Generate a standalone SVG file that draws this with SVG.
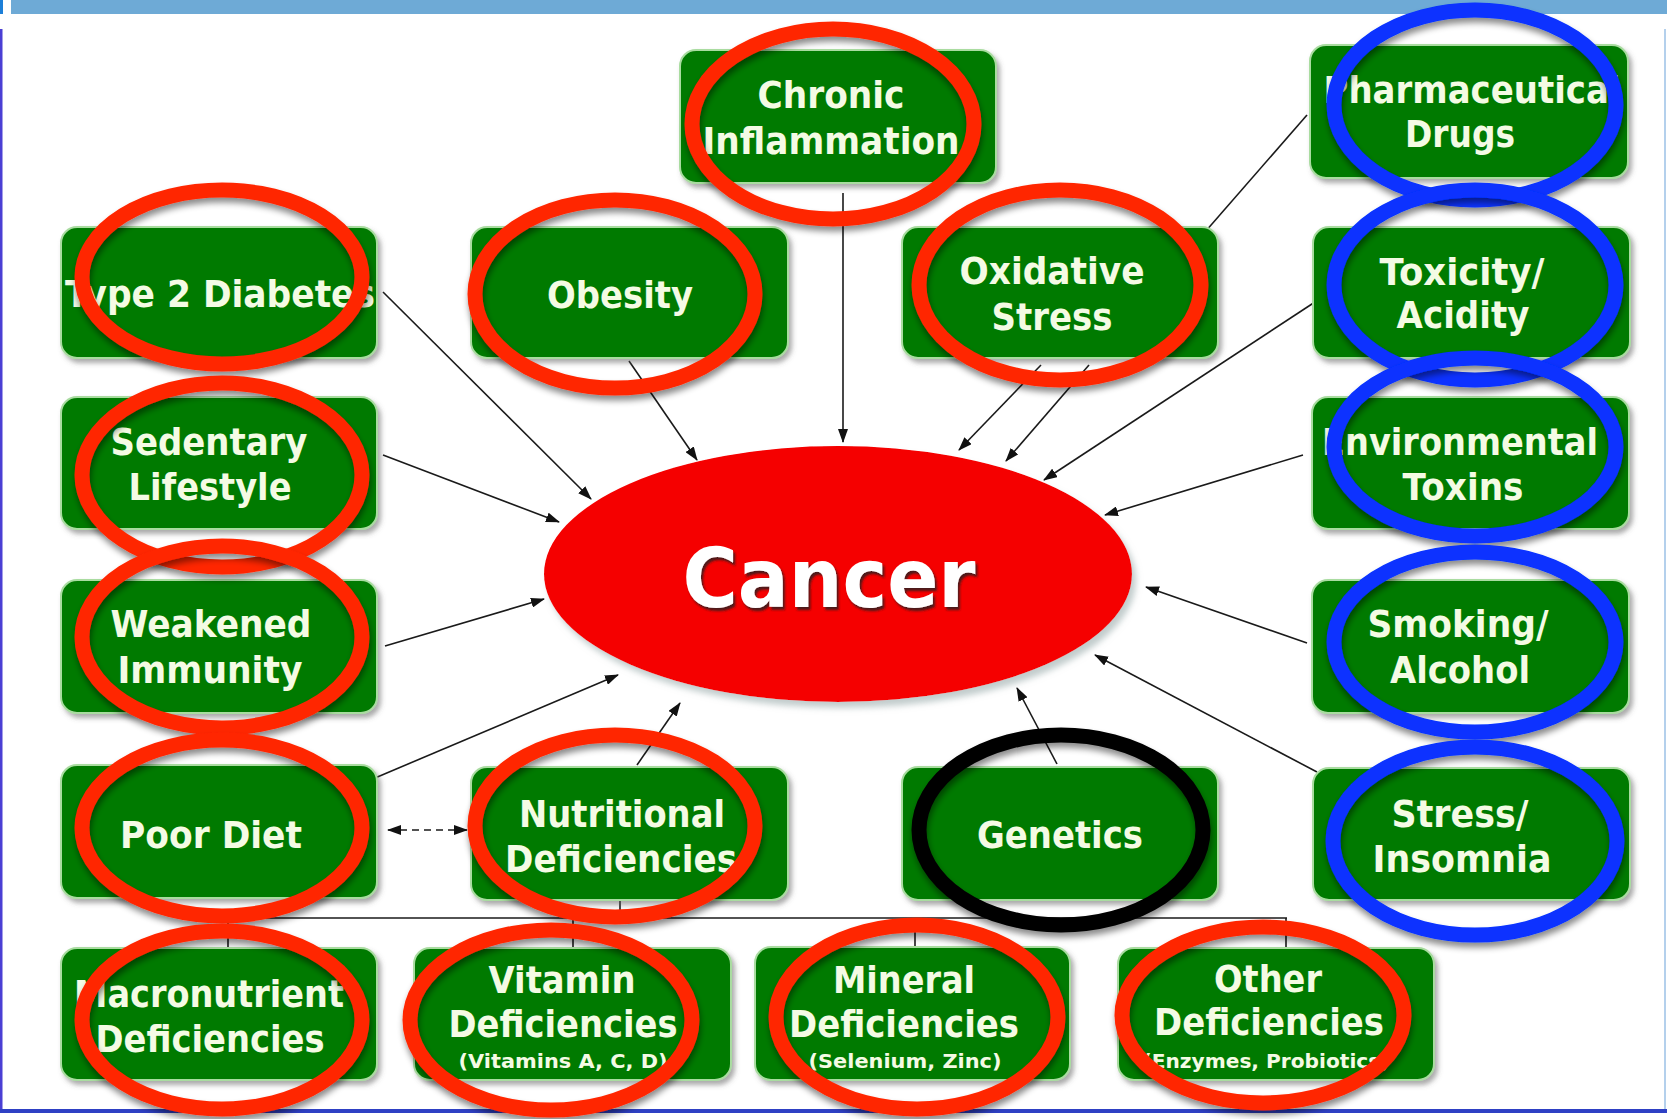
<svg xmlns="http://www.w3.org/2000/svg" width="1667" height="1119" viewBox="0 0 1667 1119">
<style>
.box{fill:#057a05;stroke:#a9dca0;stroke-width:2;filter:url(#boxShadow)}
.t{font-family:"DejaVu Sans","Liberation Sans",sans-serif;font-weight:bold;font-size:38px;fill:#f4fbe4;text-anchor:middle}
.s{font-family:"DejaVu Sans","Liberation Sans",sans-serif;font-weight:bold;font-size:20px;fill:#f4fbe4;text-anchor:middle}
.c{stroke:#1a1a1a;stroke-width:1.6;fill:none}
.a{marker-end:url(#arr)}
.ring{fill:none;stroke-width:15;filter:url(#ringShadow)}
.red{stroke:#ff2600}
.blue{stroke:#0733ff}
.blk{stroke:#000}
</style>
<defs>
<marker id="arr" markerUnits="userSpaceOnUse" markerWidth="14" markerHeight="10" refX="13" refY="5" orient="auto-start-reverse">
<path d="M0,0 L14,5 L0,10 Z" fill="#111"/>
</marker>
<filter id="boxShadow" x="-10%" y="-10%" width="125%" height="130%">
<feDropShadow dx="3" dy="4" stdDeviation="2.5" flood-color="#555" flood-opacity="0.5"/>
</filter>
<filter id="ringShadow" x="-10%" y="-10%" width="125%" height="130%">
<feDropShadow dx="1" dy="5" stdDeviation="3" flood-color="#000" flood-opacity="0.45"/>
</filter>
<filter id="cancerShadow" x="-10%" y="-10%" width="125%" height="130%">
<feDropShadow dx="4" dy="6" stdDeviation="3" flood-color="#9aa" flood-opacity="0.6"/>
</filter>
<filter id="textShadow" x="-10%" y="-20%" width="125%" height="150%">
<feDropShadow dx="2" dy="3" stdDeviation="1" flood-color="#222" flood-opacity="0.8"/>
</filter>
</defs>

<g id="frame">
<rect x="0" y="0" width="1667" height="1119" fill="#ffffff"/>
<rect x="11" y="0" width="1656" height="14" fill="#6eaad6"/>
<rect x="0" y="0" width="3" height="14" fill="#1c7fd8"/>
<rect x="0" y="29" width="2.5" height="1084" fill="#4a3fd4"/>
<rect x="0" y="1109" width="1667" height="4" fill="#2e40c4"/>
<rect x="1664" y="29" width="2" height="1080" fill="#b4d0ec"/>
</g>

<g id="connectors">
<line class="c a" x1="843" y1="193" x2="843" y2="442"/>
<line class="c a" x1="383" y1="292" x2="591" y2="499"/>
<line class="c a" x1="629" y1="361" x2="697" y2="460"/>
<line class="c a" x1="383" y1="455" x2="559" y2="522"/>
<line class="c a" x1="385" y1="646" x2="544" y2="599"/>
<line class="c a" x1="375" y1="778" x2="618" y2="675"/>
<line class="c a" x1="637" y1="765" x2="680" y2="703"/>
<line class="c a" x1="1057" y1="764" x2="1017" y2="688"/>
<line class="c a" x1="1041" y1="365" x2="959" y2="450"/>
<line class="c a" x1="1089" y1="365" x2="1006" y2="461"/>
<line class="c" x1="1307" y1="115" x2="1205" y2="232"/>
<line class="c a" x1="1315" y1="302" x2="1044" y2="480"/>
<line class="c a" x1="1303" y1="455" x2="1105" y2="515"/>
<line class="c a" x1="1307" y1="643" x2="1146" y2="587"/>
<line class="c a" x1="1317" y1="772" x2="1095" y2="655"/>
<line class="c" x1="388" y1="830" x2="467" y2="830" stroke-dasharray="7,5" marker-start="url(#arr)" marker-end="url(#arr)"/>
<polyline class="c" points="620,900 620,918"/>
<line class="c" x1="228" y1="918" x2="1287" y2="918"/>
<line class="c" x1="228" y1="918" x2="228" y2="948"/>
<line class="c" x1="573" y1="918" x2="573" y2="948"/>
<line class="c" x1="915" y1="918" x2="915" y2="947"/>
<line class="c" x1="1286" y1="918" x2="1286" y2="948"/>
</g>

<g id="node-chronic">
<rect class="box" x="680" y="50" width="316" height="133" rx="16"/>
<text class="t" x="831" y="108" textLength="147" lengthAdjust="spacingAndGlyphs">Chronic</text>
<text class="t" x="831" y="154" textLength="257" lengthAdjust="spacingAndGlyphs">Inflammation</text>
</g>
<g id="node-pharma">
<rect class="box" x="1310" y="45" width="318" height="133" rx="16"/>
<text class="t" x="1472" y="103" textLength="297" lengthAdjust="spacingAndGlyphs">Pharmaceutical</text>
<text class="t" x="1460" y="147" textLength="110" lengthAdjust="spacingAndGlyphs">Drugs</text>
</g>
<g id="node-diabetes">
<rect class="box" x="61" y="227" width="316" height="131" rx="16"/>
<text class="t" x="220" y="307" textLength="310" lengthAdjust="spacingAndGlyphs">Type 2 Diabetes</text>
</g>
<g id="node-obesity">
<rect class="box" x="471" y="227" width="317" height="131" rx="16"/>
<text class="t" x="620" y="308" textLength="146" lengthAdjust="spacingAndGlyphs">Obesity</text>
</g>
<g id="node-oxidative">
<rect class="box" x="902" y="227" width="316" height="131" rx="16"/>
<text class="t" x="1052" y="284" textLength="185" lengthAdjust="spacingAndGlyphs">Oxidative</text>
<text class="t" x="1052" y="330" textLength="121" lengthAdjust="spacingAndGlyphs">Stress</text>
</g>
<g id="node-toxicity">
<rect class="box" x="1313" y="227" width="317" height="131" rx="16"/>
<text class="t" x="1462" y="285" textLength="165" lengthAdjust="spacingAndGlyphs">Toxicity/</text>
<text class="t" x="1463" y="328" textLength="133" lengthAdjust="spacingAndGlyphs">Acidity</text>
</g>
<g id="node-sedentary">
<rect class="box" x="61" y="397" width="316" height="132" rx="16"/>
<text class="t" x="209" y="455" textLength="197" lengthAdjust="spacingAndGlyphs">Sedentary</text>
<text class="t" x="210" y="500" textLength="163" lengthAdjust="spacingAndGlyphs">Lifestyle</text>
</g>
<g id="node-environmental">
<rect class="box" x="1312" y="397" width="317" height="132" rx="16"/>
<text class="t" x="1460" y="455" textLength="276" lengthAdjust="spacingAndGlyphs">Environmental</text>
<text class="t" x="1463" y="500" textLength="121" lengthAdjust="spacingAndGlyphs">Toxins</text>
</g>
<g id="node-weakened">
<rect class="box" x="61" y="580" width="316" height="133" rx="16"/>
<text class="t" x="211" y="637" textLength="201" lengthAdjust="spacingAndGlyphs">Weakened</text>
<text class="t" x="210" y="683" textLength="185" lengthAdjust="spacingAndGlyphs">Immunity</text>
</g>
<g id="node-smoking">
<rect class="box" x="1312" y="580" width="317" height="133" rx="16"/>
<text class="t" x="1458" y="637" textLength="181" lengthAdjust="spacingAndGlyphs">Smoking/</text>
<text class="t" x="1460" y="683" textLength="140" lengthAdjust="spacingAndGlyphs">Alcohol</text>
</g>
<g id="node-poordiet">
<rect class="box" x="61" y="765" width="316" height="133" rx="16"/>
<text class="t" x="211" y="848" textLength="182" lengthAdjust="spacingAndGlyphs">Poor Diet</text>
</g>
<g id="node-nutritional">
<rect class="box" x="471" y="767" width="317" height="133" rx="16"/>
<text class="t" x="622" y="827" textLength="206" lengthAdjust="spacingAndGlyphs">Nutritional</text>
<text class="t" x="621" y="872" textLength="232" lengthAdjust="spacingAndGlyphs">Deficiencies</text>
</g>
<g id="node-genetics">
<rect class="box" x="902" y="767" width="316" height="133" rx="16"/>
<text class="t" x="1060" y="848" textLength="166" lengthAdjust="spacingAndGlyphs">Genetics</text>
</g>
<g id="node-stress">
<rect class="box" x="1313" y="768" width="317" height="132" rx="16"/>
<text class="t" x="1460" y="827" textLength="137" lengthAdjust="spacingAndGlyphs">Stress/</text>
<text class="t" x="1462" y="872" textLength="179" lengthAdjust="spacingAndGlyphs">Insomnia</text>
</g>
<g id="node-macro">
<rect class="box" x="61" y="948" width="316" height="132" rx="16"/>
<text class="t" x="209" y="1007" textLength="270" lengthAdjust="spacingAndGlyphs">Macronutrient</text>
<text class="t" x="210" y="1052" textLength="229" lengthAdjust="spacingAndGlyphs">Deficiencies</text>
</g>
<g id="node-vitamin">
<rect class="box" x="414" y="948" width="317" height="132" rx="16"/>
<text class="t" x="562" y="993" textLength="147" lengthAdjust="spacingAndGlyphs">Vitamin</text>
<text class="t" x="563" y="1037" textLength="229" lengthAdjust="spacingAndGlyphs">Deficiencies</text>
<text class="s" x="563" y="1068" textLength="209" lengthAdjust="spacingAndGlyphs">(Vitamins A, C, D)</text>
</g>
<g id="node-mineral">
<rect class="box" x="755" y="947" width="315" height="133" rx="16"/>
<text class="t" x="904" y="993" textLength="142" lengthAdjust="spacingAndGlyphs">Mineral</text>
<text class="t" x="904" y="1037" textLength="230" lengthAdjust="spacingAndGlyphs">Deficiencies</text>
<text class="s" x="905" y="1068" textLength="193" lengthAdjust="spacingAndGlyphs">(Selenium, Zinc)</text>
</g>
<g id="node-other">
<rect class="box" x="1118" y="948" width="316" height="132" rx="16"/>
<text class="t" x="1268" y="992" textLength="108" lengthAdjust="spacingAndGlyphs">Other</text>
<text class="t" x="1269" y="1035" textLength="230" lengthAdjust="spacingAndGlyphs">Deficiencies</text>
<text class="s" x="1266" y="1068" textLength="247" lengthAdjust="spacingAndGlyphs">(Enzymes, Probiotics)</text>
</g>
<g id="node-cancer">
<ellipse cx="838" cy="574" rx="294" ry="128" fill="#f50000" filter="url(#cancerShadow)"/>
<text x="829" y="607" textLength="293" lengthAdjust="spacingAndGlyphs" font-family="DejaVu Sans, Liberation Sans, sans-serif" font-weight="bold" font-size="82" fill="#ffffff" text-anchor="middle" filter="url(#textShadow)">Cancer</text>
</g>

<g id="annotations">
<ellipse class="ring red" cx="833" cy="124" rx="141" ry="95"/>
<ellipse class="ring red" cx="222" cy="277" rx="140" ry="87"/>
<ellipse class="ring red" cx="615" cy="294" rx="140" ry="94"/>
<ellipse class="ring red" cx="1060" cy="285" rx="141" ry="95"/>
<ellipse class="ring red" cx="222" cy="475" rx="140" ry="92"/>
<ellipse class="ring red" cx="222" cy="637" rx="140" ry="91"/>
<ellipse class="ring red" cx="222" cy="828" rx="140" ry="88"/>
<ellipse class="ring red" cx="222" cy="1020" rx="140" ry="89"/>
<ellipse class="ring red" cx="615" cy="826" rx="140" ry="91"/>
<ellipse class="ring red" cx="551" cy="1020" rx="141" ry="90"/>
<ellipse class="ring red" cx="917" cy="1017" rx="141" ry="92"/>
<ellipse class="ring red" cx="1263" cy="1015" rx="141" ry="88"/>
<ellipse class="ring blue" cx="1475" cy="105" rx="141" ry="95"/>
<ellipse class="ring blue" cx="1475" cy="285" rx="141" ry="95"/>
<ellipse class="ring blue" cx="1475" cy="447" rx="141" ry="89"/>
<ellipse class="ring blue" cx="1475" cy="642" rx="141" ry="90"/>
<ellipse class="ring blue" cx="1475" cy="841" rx="142" ry="94"/>
<ellipse class="ring blk" cx="1061" cy="830" rx="142" ry="95"/>
</g>
</svg>
